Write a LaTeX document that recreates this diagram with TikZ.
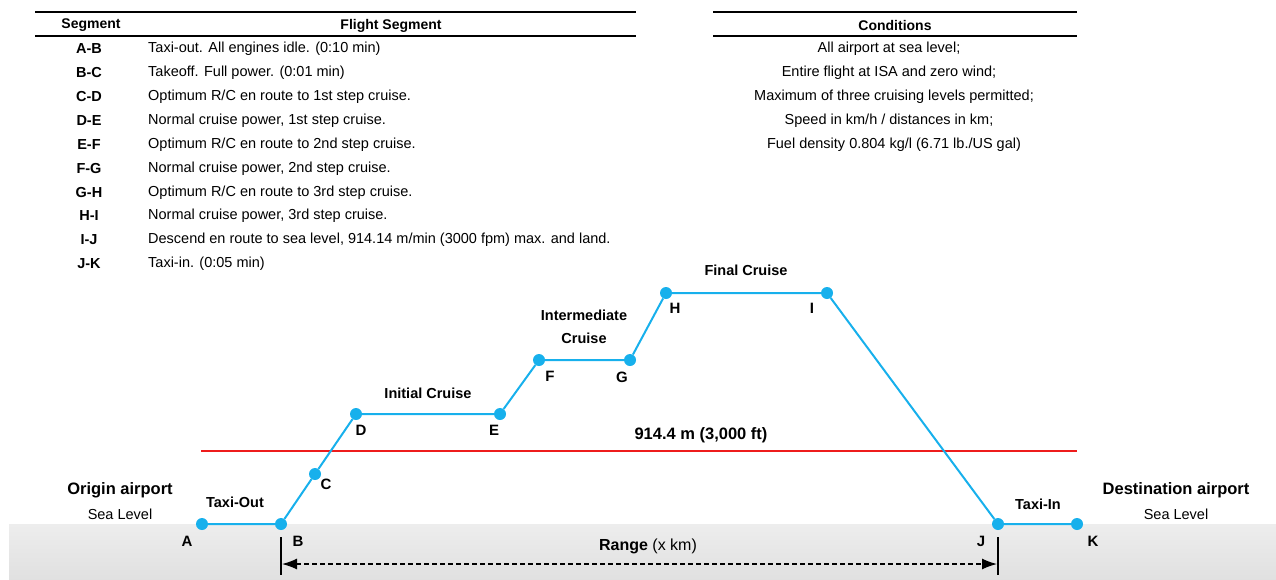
\documentclass[tikz,border=0pt]{standalone}
\usepackage{fontspec}
\setmainfont{Liberation Sans}
\usetikzlibrary{arrows.meta}
\definecolor{flightblue}{HTML}{17B0EC}
\definecolor{limitred}{HTML}{EE1C1C}
\begin{document}
\begin{tikzpicture}[x=1pt,y=-1pt,
  hdr/.style={font=\bfseries\fontsize{14}{16}\selectfont, inner sep=0pt, yshift=-2.5pt},
  code/.style={font=\bfseries\fontsize{14.5}{16}\selectfont, inner sep=0pt, yshift=-1.5pt},
  desc/.style={font=\fontsize{14.5}{16}\selectfont, inner sep=0pt, anchor=west, yshift=-1.5pt},
  cond/.style={font=\fontsize{14.5}{16}\selectfont, inner sep=0pt, yshift=-1.5pt},
  rulel/.style={line width=1.6pt},
  wp/.style={circle, fill=flightblue, inner sep=0pt, minimum size=12pt},
  wplabel/.style={font=\bfseries\fontsize{15}{17}\selectfont, inner sep=0pt},
  phase/.style={font=\bfseries\fontsize{14.5}{17}\selectfont, inner sep=0pt, align=center},
  airport/.style={font=\bfseries\fontsize{16.5}{19}\selectfont, inner sep=0pt},
  sealevel/.style={font=\fontsize{14.5}{17}\selectfont, inner sep=0pt},
  route/.style={draw=flightblue, line width=2pt},
  rangearrow/.style={dash pattern=on 5pt off 3pt, line width=1.4pt, {Latex[length=15pt,width=11pt]}-{Latex[length=15pt,width=11pt]}},
  bar/.style={line width=1.6pt}
]
\useasboundingbox (0,0) rectangle (1276,579);
% ground band
\shade[top color=black!7, bottom color=black!12] (9,524) rectangle (1276,579);

% ---- left table ----
\draw[rulel] (35,12) -- (636,12);
\draw[rulel] (35,36) -- (636,36);
\node[hdr] (hseg) at (91,23) {Segment};
\node[hdr] (hfs) at (391,23) {Flight Segment};
\foreach \c/\t/\y [count=\i] in {
  A-B/{Taxi-out. All engines idle. (0:10 min)}/47,
  B-C/{Takeoff. Full power. (0:01 min)}/71,
  C-D/{Optimum R/C en route to 1st step cruise.}/95,
  D-E/{Normal cruise power, 1st step cruise.}/119,
  E-F/{Optimum R/C en route to 2nd step cruise.}/143,
  F-G/{Normal cruise power, 2nd step cruise.}/167,
  G-H/{Optimum R/C en route to 3rd step cruise.}/191,
  H-I/{Normal cruise power, 3rd step cruise.}/214,
  I-J/{Descend en route to sea level, 914.14 m/min (3000 fpm) max. and land.}/238,
  J-K/{Taxi-in. (0:05 min)}/262}{
  \node[code] (code\i) at (89,\y) {\c};
  \node[desc] (desc\i) at (148,\y) {\t};
}

% ---- right table ----
\draw[rulel] (713,12) -- (1077,12);
\draw[rulel] (713,36) -- (1077,36);
\node[hdr] (hcond) at (895,23) {Conditions};
\node[cond] (cond1) at (889,47) {All airport at sea level;};
\node[cond] (cond2) at (889,71) {Entire flight at ISA and zero wind;};
\node[cond] (cond3) at (894,95) {Maximum of three cruising levels permitted;};
\node[cond] (cond4) at (889,119) {Speed in km/h / distances in km;};
\node[cond] (cond5) at (894,143) {Fuel density 0.804 kg/l (6.71 lb./US gal)};

% ---- 3000 ft line ----
\coordinate (redL) at (201,451);
\coordinate (redR) at (1077,451);
\draw[limitred, line width=1.5pt] (redL) -- (redR);
\node[font=\bfseries\fontsize{16.5}{19}\selectfont, inner sep=0pt] (alt) at (701,435) {914.4 m (3,000 ft)};

% ---- waypoints ----
\node[wp] (A) at (202,524) {};
\node[wp] (B) at (281,524) {};
\node[wp] (C) at (315,474) {};
\node[wp] (D) at (356,414) {};
\node[wp] (E) at (500,414) {};
\node[wp] (F) at (539,360) {};
\node[wp] (G) at (630,360) {};
\node[wp] (H) at (666,293) {};
\node[wp] (I) at (827,293) {};
\node[wp] (J) at (998,524) {};
\node[wp] (K) at (1077,524) {};
\draw[route] (A) -- (B) -- (C) -- (D) -- (E) -- (F) -- (G) -- (H) -- (I) -- (J) -- (K);

\node[wplabel] (lA) at (187,541) {A};
\node[wplabel] (lB) at (298,541) {B};
\node[wplabel] (lC) at (326,484) {C};
\node[wplabel] (lD) at (361,430) {D};
\node[wplabel] (lE) at (494,430) {E};
\node[wplabel] (lF) at (550,376) {F};
\node[wplabel] (lG) at (622,377) {G};
\node[wplabel] (lH) at (675,308) {H};
\node[wplabel] (lI) at (812,308) {I};
\node[wplabel] (lJ) at (981,541) {J};
\node[wplabel] (lK) at (1093,541) {K};

% ---- phase labels ----
\node[phase] (taxiout) at (235,502) {Taxi-Out};
\node[phase] (initial) at (428,393) {Initial Cruise};
\node[phase] (inter1) at (584,315) {Intermediate};
\node[phase] (inter2) at (584,338) {Cruise};
\node[phase] (final) at (746,270) {Final Cruise};
\node[phase] (taxiin) at (1038,504) {Taxi-In};

\node[airport] (orig) at (120,490) {Origin airport};
\node[sealevel] (origsl) at (120,514) {Sea Level};
\node[airport] (dest) at (1176,490) {Destination airport};
\node[sealevel] (destsl) at (1176,514) {Sea Level};

% ---- range ----
\coordinate (barBt) at (281,537);
\coordinate (barBb) at (281,575);
\coordinate (barJt) at (998,537);
\coordinate (barJb) at (998,575);
\draw[bar] (barBt) -- (barBb);
\draw[bar] (barJt) -- (barJb);
\coordinate (rL) at (282,564);
\coordinate (rR) at (997,564);
\draw[rangearrow] (rL) -- (rR);
\node[font=\fontsize{16}{19}\selectfont, inner sep=0pt] (range) at (648,546) {\textbf{Range} (x km)};
\end{tikzpicture}
\end{document}
